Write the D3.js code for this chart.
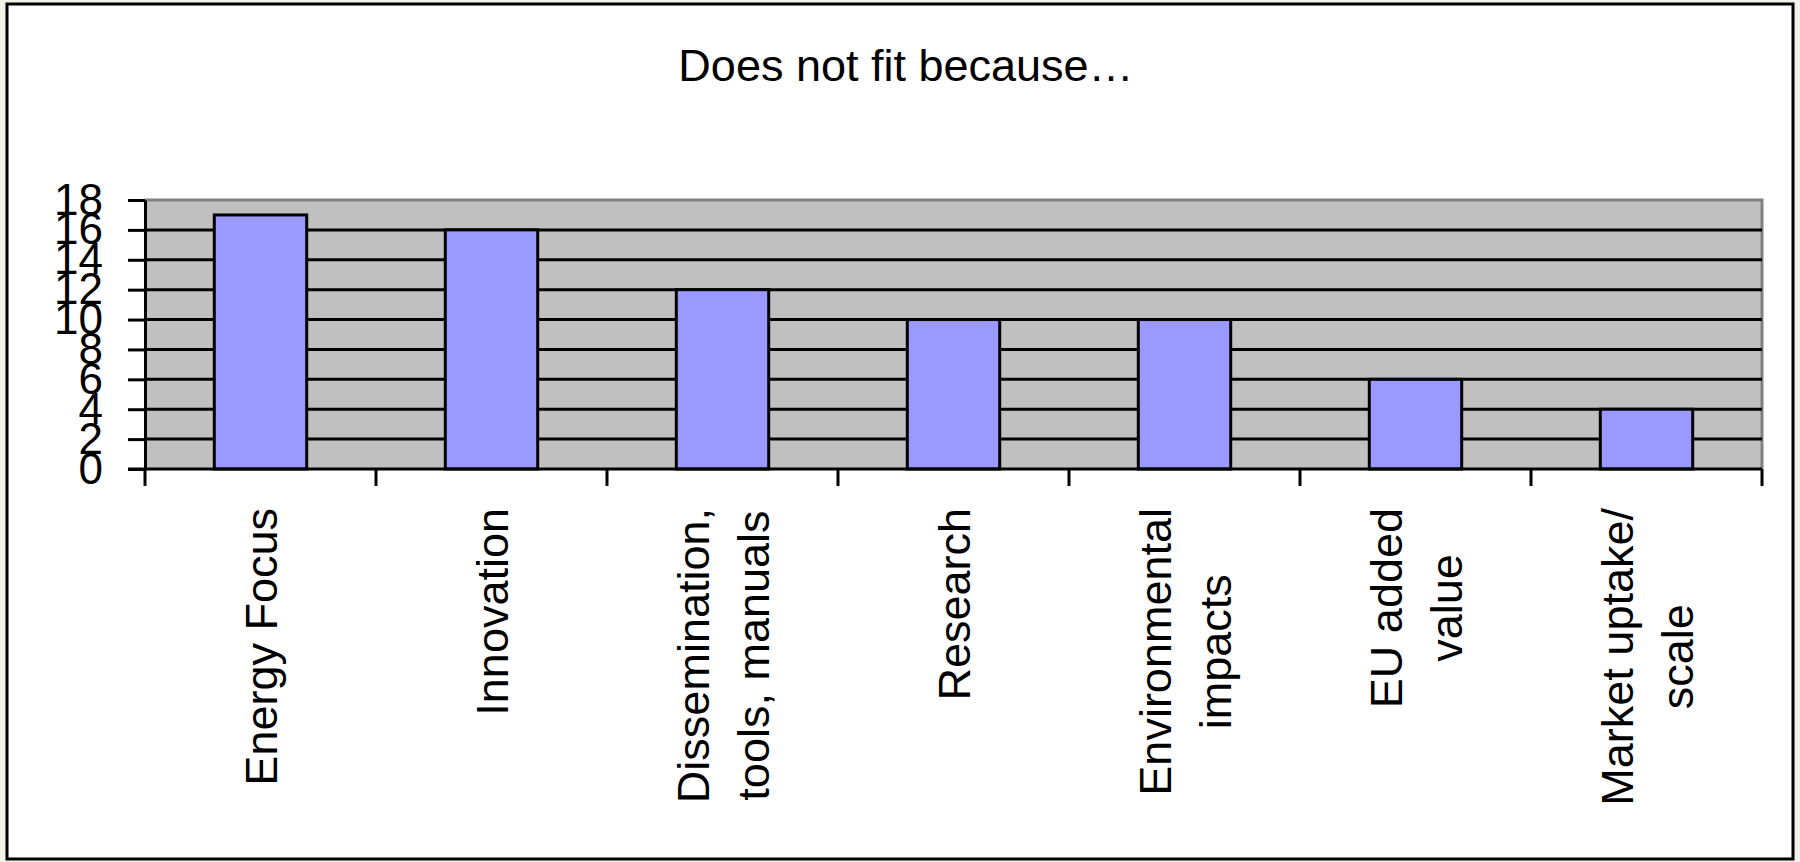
<!DOCTYPE html>
<html>
<head>
<meta charset="utf-8">
<script src="https://cdn.jsdelivr.net/npm/d3@7"></script>
<style>
  html, body { margin: 0; padding: 0; background: #f1f3eb; }
  svg { display: block; }
  text { font-family: "Liberation Sans", Arial, sans-serif; fill: #000; }
</style>
</head>
<body>
<svg width="1800" height="862"></svg>
<script>
const TITLE = "Does not fit because…";

const categories = [
  ["Energy Focus"],
  ["Innovation"],
  ["Dissemination,", "tools, manuals"],
  ["Research"],
  ["Environmental", "impacts"],
  ["EU added", "value"],
  ["Market uptake/", "scale"],
];
const values = [17, 16, 12, 10, 10, 6, 4];
const yTicks = [0, 2, 4, 6, 8, 10, 12, 14, 16, 18];

const plot = { left: 145, right: 1762, top: 200, bottom: 469 };
const labelTop = 508;

const svg = d3.select("svg");

// outer chart frame
svg.append("rect")
  .attr("x", 7).attr("y", 4)
  .attr("width", 1786).attr("height", 855)
  .attr("fill", "#fff")
  .attr("stroke", "#000")
  .attr("stroke-width", 3);

svg.append("text")
  .attr("x", 906).attr("y", 81)
  .attr("text-anchor", "middle")
  .attr("font-size", 45)
  .text(TITLE);

const x = d3.scaleBand()
  .domain(d3.range(categories.length))
  .range([plot.left, plot.right])
  .paddingInner(0.6)
  .paddingOuter(0.3);

const y = d3.scaleLinear().domain([0, 18]).range([plot.bottom, plot.top]);

// plot background
svg.append("rect")
  .attr("x", plot.left).attr("y", plot.top)
  .attr("width", plot.right - plot.left).attr("height", plot.bottom - plot.top)
  .attr("fill", "#c0c0c0");

svg.append("path")
  .attr("d", `M${plot.left},${plot.top}H${plot.right}V${plot.bottom}`)
  .attr("fill", "none")
  .attr("stroke", "#808080")
  .attr("stroke-width", 3);

// gridlines
svg.append("g")
  .selectAll("line")
  .data(yTicks.filter(d => d > 0 && d < 18))
  .join("line")
  .attr("x1", plot.left).attr("x2", plot.right)
  .attr("y1", d => y(d)).attr("y2", d => y(d))
  .attr("stroke", "#000")
  .attr("stroke-width", 3);

// bars
svg.append("g")
  .selectAll("rect")
  .data(values)
  .join("rect")
  .attr("x", (d, i) => x(i))
  .attr("y", d => y(d))
  .attr("width", x.bandwidth())
  .attr("height", d => y(0) - y(d))
  .attr("fill", "#9999ff")
  .attr("stroke", "#000")
  .attr("stroke-width", 3);

// y axis
const yAxis = svg.append("g")
  .attr("transform", `translate(${plot.left},0)`)
  .call(d3.axisLeft(y).tickValues(yTicks).tickSize(17).tickPadding(25).tickSizeOuter(0));
yAxis.select(".domain").attr("stroke", "#000").attr("stroke-width", 3);
yAxis.selectAll(".tick line").attr("stroke", "#000").attr("stroke-width", 3);
yAxis.selectAll(".tick text")
  .attr("font-size", 44)
  .attr("font-family", "Liberation Sans, Arial, sans-serif")
  .attr("fill", "#000");

// x axis: ticks between categories
const step = x.step();
const xEdges = d3.range(categories.length + 1).map(i => plot.left + i * step);
svg.append("line")
  .attr("x1", plot.left - 17).attr("x2", plot.right)
  .attr("y1", plot.bottom).attr("y2", plot.bottom)
  .attr("stroke", "#000").attr("stroke-width", 3);
svg.append("g")
  .selectAll("line")
  .data(xEdges)
  .join("line")
  .attr("x1", d => d).attr("x2", d => d)
  .attr("y1", plot.bottom).attr("y2", plot.bottom + 17)
  .attr("stroke", "#000").attr("stroke-width", 3);

// rotated category labels, lines centred on each other, longest line starts at labelTop
const labels = svg.append("g")
  .selectAll("g")
  .data(categories)
  .join("g");

labels.each(function (lines, i) {
  const g = d3.select(this);
  const n = lines.length;
  const texts = g.selectAll("text")
    .data(lines)
    .join("text")
    .attr("x", 0)
    .attr("y", (l, j) => 16 + 60 * j - 30 * (n - 1))
    .attr("text-anchor", "middle")
    .attr("font-size", 45)
    .text(l => l);
  const longest = d3.max(texts.nodes(), t => t.getComputedTextLength());
  g.attr("transform", `translate(${x(i) + x.bandwidth() / 2},${labelTop + longest / 2}) rotate(-90)`);
});
</script>
</body>
</html>
